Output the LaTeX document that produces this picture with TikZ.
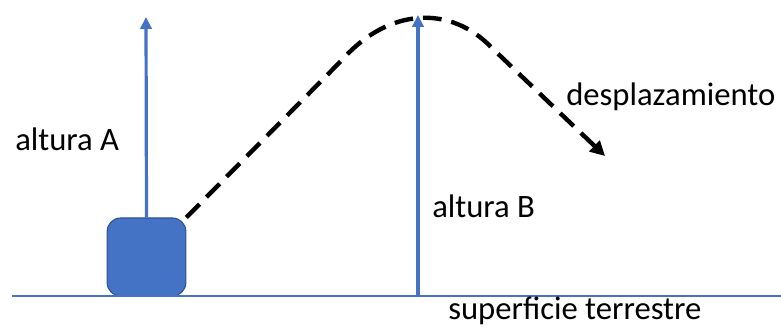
\documentclass[tikz,border=0pt]{standalone}
\usepackage{fontspec}
\setmainfont{Carlito}
\usepackage{tikz}
\usetikzlibrary{arrows.meta,calc,positioning}
\definecolor{AltBlue}{HTML}{4472C4}
\definecolor{AltEdge}{HTML}{2F528F}

\begin{document}
\begin{tikzpicture}[
      x=0.75pt,y=-0.75pt,
      body/.style={rectangle,rounded corners=10pt,draw=AltEdge,thick,
        fill=AltBlue,minimum width=59pt,minimum height=58.5pt,inner sep=0pt},
      height/.style={-{Triangle[length=9pt,width=8.5pt]},color=AltBlue,line width=2.4pt},
      path/.style={-{Triangle[length=11pt,width=11pt]},black,line width=3.3pt,
        dash pattern=on 14pt off 7.5pt},
      ground/.style={color=AltBlue,line width=0.8pt},
      label/.style={anchor=base west,inner sep=0pt,font=\fontsize{24.5}{29}\selectfont}
    ]
      \useasboundingbox (0,0) rectangle (781,327);

      \coordinate (g0) at (12,296);
      \coordinate (g1) at (781,296);
      \coordinate (gB) at (418,296);
      \coordinate (topA) at (146,17);
      \coordinate (topB) at (418,15);
      \coordinate (fin) at (605,156);

      \node[body] (cuerpo) at (146.5,257) {};

      \draw[ground] (g0) -- (g1);
      \draw[height] (cuerpo.north) -- (topA);
      \draw[height] (gB) -- (topB);

      \draw[path] (cuerpo.north east) -- (342,60)
        .. controls (388,8) and (450,4) .. (492,48) -- (fin);

      \node[label] (altA) at (15,151) {altura A};
      \node[label] (altB) at (432,218) {altura B};
      \node[label] (desp) at (566,106) {desplazamiento};
      \node[label] (sup) at (448,320) {superficie terrestre};
    \end{tikzpicture}
\end{document}
